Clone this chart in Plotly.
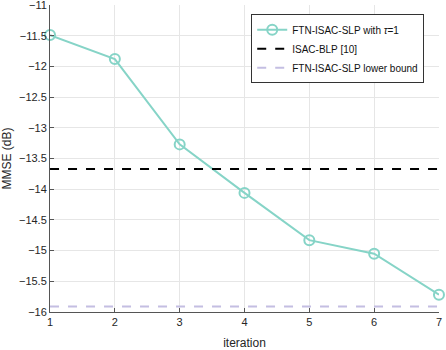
import plotly.graph_objects as go

iterations = [1, 2, 3, 4, 5, 6, 7]
ftn_slp = [-11.49, -11.88, -13.27, -14.06, -14.83, -15.05, -15.72]
isac_blp = [-13.67] * 7
lower_bound = [-15.91] * 7

teal = "#86d4c7"
lav = "#c4bee2"
font = "Liberation Sans, Arial, sans-serif"

fig = go.Figure()
fig.add_trace(go.Scatter(x=iterations, y=ftn_slp, mode="lines+markers",
                         name="FTN-ISAC-SLP with <i>τ</i>=1", cliponaxis=False,
                         line=dict(color=teal, width=2),
                         marker=dict(symbol="circle-open", size=10, color=teal, line=dict(width=2))))
fig.add_trace(go.Scatter(x=iterations, y=isac_blp, mode="lines", name="ISAC-BLP [10]",
                         line=dict(color="black", width=2, dash="dash")))
fig.add_trace(go.Scatter(x=iterations, y=lower_bound, mode="lines", name="FTN-ISAC-SLP lower bound",
                         line=dict(color=lav, width=2, dash="dash")))

axis_common = dict(showgrid=True, gridcolor="#e6e6e6", gridwidth=1, showline=True,
                   linecolor="#555555", linewidth=1, ticks="inside", ticklen=4,
                   tickcolor="#555555", zeroline=False, mirror=False, automargin=False,
                   ticklabeloverflow="allow",
                   tickfont=dict(family=font, size=11, color="#262626"))

fig.update_layout(
    width=446, height=350,
    margin=dict(l=50, r=7, t=5, b=38),
    paper_bgcolor="white", plot_bgcolor="white",
    font=dict(family=font, size=11, color="#262626"),
    showlegend=True,
    legend=dict(x=0.962, y=0.97, xanchor="right", yanchor="top",
                bgcolor="white", bordercolor="#333333", borderwidth=1,
                font=dict(family=font, size=10, color="#111111"), tracegroupgap=0,
                itemwidth=30),
    xaxis=dict(range=[0.9995, 7.0005], tickvals=iterations, ticktext=[str(i) for i in iterations],
               title=dict(text="iteration", font=dict(family=font, size=12), standoff=13),
               **axis_common),
    yaxis=dict(range=[-16.0005, -10.9995], dtick=0.5, tick0=-16,
               title=dict(text="MMSE (dB)", font=dict(family=font, size=12), standoff=6),
               **axis_common),
)

fig.write_html("out.html", config={"displayModeBar": False},
               post_script="document.body.style.margin='0';document.body.style.overflow='hidden';")
